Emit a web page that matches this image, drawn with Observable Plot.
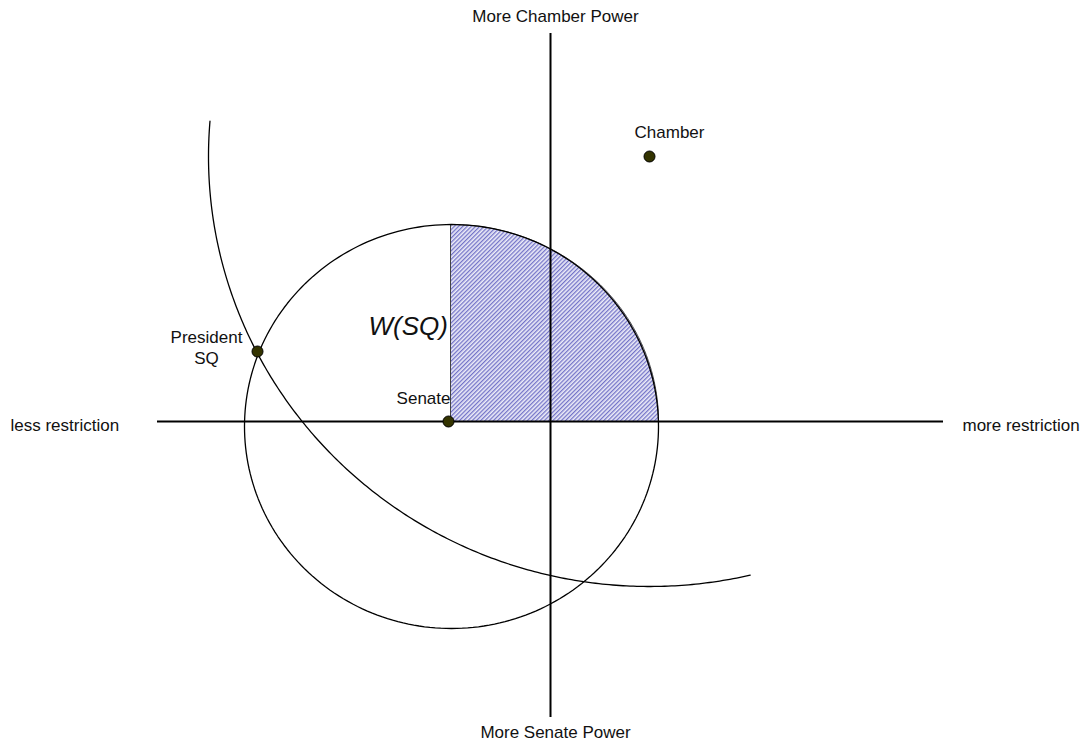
<!DOCTYPE html>
<html>
<head>
<meta charset="utf-8">
<script src="https://cdn.jsdelivr.net/npm/d3@7"></script>
<script src="https://cdn.jsdelivr.net/npm/@observablehq/plot@0.6"></script>
<style>
  html, body { margin: 0; padding: 0; background: #fff; }
  #chart svg { display: block; font-family: "Liberation Sans", Arial, sans-serif; }
</style>
</head>
<body>
<div id="chart"></div>
<script>
// ---- data (abstract policy space: x = restriction, y = chamber power) ----
const actorNames = ["Senate", "President\nSQ", "Chamber"];
const actorX = [-1.02, -2.93, 0.99];
const actorY = [0.0, 0.70, 2.65];

// Senate indifference circle through SQ: [cx, cy, rx, ry]
const senateCircle = [-0.99, -0.05, 2.07, 2.02];
// Chamber indifference arc through SQ: [cx, cy, rx, ry, startDeg, endDeg]
const chamberArc = [0.99, 2.65, 4.41, 4.30, 175.3, 283.2];
// Win set W(SQ) quarter region: [cx, cy, rx, ry, startDeg, endDeg]
const winSet = [-1.00, 0.0, 2.08, 1.97, 0, 90];

// Axis extents
const hAxis = [-3.93, 3.93];
const vAxis = [-2.96, 3.88];

const vertLabels = ["More Chamber Power", "More Senate Power"];
const vertLabelX = [0.05, 0.05];
const vertLabelY = [4.00, -3.16];
const horizLabels = ["less restriction", "more restriction"];
const horizLabelX = [-5.40, 4.12];
const horizLabelY = [-0.09, -0.09];

// ---- helpers ----
function arcPoints(cx, cy, rx, ry, a0, a1, n = 240) {
  const pts = [];
  for (let i = 0; i <= n; i++) {
    const a = (a0 + (a1 - a0) * i / n) * Math.PI / 180;
    pts.push({x: cx + rx * Math.cos(a), y: cy + ry * Math.sin(a)});
  }
  return pts;
}
const circlePts = arcPoints(senateCircle[0], senateCircle[1], senateCircle[2], senateCircle[3], 0, 360);
const arcPts = arcPoints(...chamberArc);
const winPts = [{x: winSet[0], y: winSet[1]}, ...arcPoints(...winSet), {x: winSet[0], y: winSet[1]}];

const actors = actorNames.map((name, i) => ({name, x: actorX[i], y: actorY[i]}));
const vLabels = vertLabels.map((t, i) => ({t, x: vertLabelX[i], y: vertLabelY[i]}));
const hLabels = horizLabels.map((t, i) => ({t, x: horizLabelX[i], y: horizLabelY[i]}));

const font = 17;

const chart = Plot.plot({
  width: 1086,
  height: 742,
  margin: 0,
  style: {fontFamily: '"Liberation Sans", Arial, sans-serif', background: "#fff"},
  x: {domain: [-5.5, 5.36], axis: null},
  y: {domain: [-3.21, 4.21], axis: null},
  marks: [
    Plot.line(winPts, {x: "x", y: "y", fill: "url(#hatch)", stroke: "#444", strokeWidth: 1, curve: "linear"}),
    Plot.line(circlePts, {x: "x", y: "y", stroke: "#000", strokeWidth: 1.3}),
    Plot.line(arcPts, {x: "x", y: "y", stroke: "#000", strokeWidth: 1.3}),
    Plot.ruleY([0], {x1: hAxis[0], x2: hAxis[1], stroke: "#000", strokeWidth: 2}),
    Plot.ruleX([0], {y1: vAxis[0], y2: vAxis[1], stroke: "#000", strokeWidth: 2}),
    Plot.dot(actors, {x: "x", y: "y", r: 5.5, fill: "#333300", stroke: "#000", strokeWidth: 1}),
    // actor labels
    Plot.text(actors.filter(d => d.name === "Chamber"), {x: "x", y: "y", text: "name", dx: 20, dy: -19, lineAnchor: "bottom", fontSize: font, fill: "#111"}),
    Plot.text(actors.filter(d => d.name === "Senate"), {x: "x", y: "y", text: "name", dx: 2, dy: -18, textAnchor: "end", lineAnchor: "bottom", fontSize: font, fill: "#111"}),
    Plot.text(actors.filter(d => d.name.startsWith("President")), {x: "x", y: "y", text: "name", dx: -51, dy: 12, lineAnchor: "bottom", lineHeight: 1.18, fontSize: font, fill: "#111"}),
    // win set label
    Plot.text(["W(SQ)"], {x: [-1.82], y: [0.87], text: d => d, textAnchor: "start", lineAnchor: "bottom", fontSize: 26, fontStyle: "italic", fill: "#111"}),
    // axis end labels
    Plot.text(vLabels, {x: "x", y: "y", text: "t", textAnchor: "middle", lineAnchor: "bottom", fontSize: font, fill: "#111"}),
    Plot.text(hLabels, {x: "x", y: "y", text: "t", textAnchor: "start", lineAnchor: "bottom", fontSize: font, fill: "#111"})
  ]
});

// hatch pattern for the win set
const ns = "http://www.w3.org/2000/svg";
const defs = document.createElementNS(ns, "defs");
const pat = document.createElementNS(ns, "pattern");
pat.setAttribute("id", "hatch");
pat.setAttribute("width", "3");
pat.setAttribute("height", "3");
pat.setAttribute("patternUnits", "userSpaceOnUse");
pat.setAttribute("patternTransform", "rotate(45)");
const bg = document.createElementNS(ns, "rect");
bg.setAttribute("width", "3"); bg.setAttribute("height", "3"); bg.setAttribute("fill", "#ececf8");
const ln = document.createElementNS(ns, "rect");
ln.setAttribute("width", "1.3"); ln.setAttribute("height", "3"); ln.setAttribute("fill", "#7474c8");
pat.appendChild(bg); pat.appendChild(ln);
defs.appendChild(pat);
chart.insertBefore(defs, chart.firstChild);

document.getElementById("chart").appendChild(chart);
</script>
</body>
</html>
